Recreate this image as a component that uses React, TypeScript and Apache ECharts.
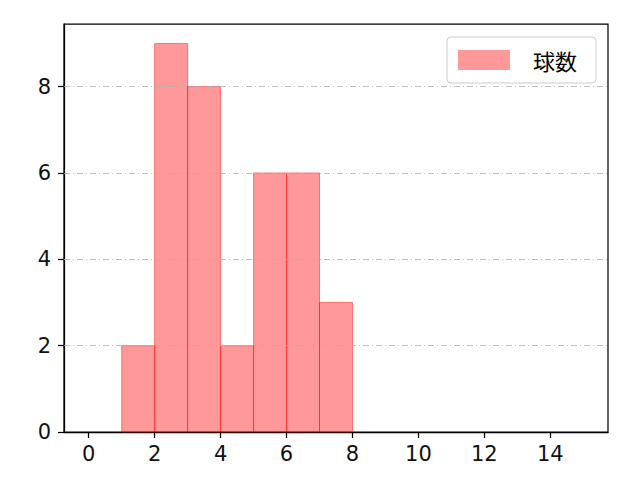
import React, { useEffect, useRef } from 'react';
import * as echarts from 'echarts';

// histogram bins: [start, end]
const binStarts = [1, 2, 3, 4, 5, 6, 7];
const binEnds = [2, 3, 4, 5, 6, 7, 8];
const counts = [2, 9, 8, 2, 6, 6, 3];
const seriesName = '球数';

const xTicks = [0, 2, 4, 6, 8, 10, 12, 14];
const yTicks = [0, 2, 4, 6, 8];
const gridLines = [2, 4, 6, 8];

const FONT = '"Noto Sans CJK JP", sans-serif';
const NUM_FONT = '"DejaVu Sans", sans-serif';

const App: React.FC = () => {
    const chartRef = useRef<HTMLDivElement | null>(null);

    useEffect(() => {
        if (!chartRef.current) return;
        document.body.style.margin = '0';

        const chart = echarts.init(chartRef.current, null, { renderer: 'svg' });

        const data = binStarts.map((s, i) => [s, binEnds[i], counts[i]]);

        const option = {
            animation: false,
            backgroundColor: '#fff',
            textStyle: { fontFamily: FONT },
            grid: {
                left: 64,
                right: 32,
                top: 24,
                bottom: 48,
                show: true,
                borderColor: '#000',
                borderWidth: 1.25,
                containLabel: false
            },
            legend: {
                right: 44,
                top: 37,
                padding: [12, 19, 12, 11],
                itemWidth: 52,
                itemHeight: 20,
                borderColor: '#ccc',
                borderWidth: 1,
                borderRadius: 4,
                textStyle: { fontSize: 22, color: '#000', fontFamily: FONT, padding: [0, 0, 0, 18] },
                data: [{ name: seriesName, icon: 'rect' }]
            },
            xAxis: {
                type: 'value',
                min: -0.75,
                max: 15.75,
                splitLine: { show: false },
                axisLine: { show: true, onZero: false, lineStyle: { color: '#000', width: 1.25 } },
                axisTick: {
                    show: true,
                    length: 6,
                    lineStyle: { color: '#000', width: 1.25 },
                    customValues: xTicks
                },
                axisLabel: {
                    color: '#111',
                    fontSize: 21,
                    margin: 11,
                    fontFamily: NUM_FONT,
                    customValues: xTicks
                }
            },
            yAxis: {
                type: 'value',
                min: 0,
                max: 9.45,
                splitLine: { show: false },
                axisLine: { show: true, onZero: false, lineStyle: { color: '#000', width: 1.25 } },
                axisTick: {
                    show: true,
                    length: 6,
                    lineStyle: { color: '#000', width: 1.25 },
                    customValues: yTicks
                },
                axisLabel: {
                    color: '#111',
                    fontSize: 21,
                    margin: 13,
                    fontFamily: NUM_FONT,
                    customValues: yTicks
                }
            },
            series: [
                {
                    name: seriesName,
                    type: 'custom',
                    itemStyle: { color: 'rgba(255,0,0,0.4)' },
                    renderItem: (params: any, api: any) => {
                        const p0 = api.coord([api.value(0), 0]);
                        const p1 = api.coord([api.value(1), api.value(2)]);
                        return {
                            type: 'rect',
                            shape: { x: p0[0], y: p1[1], width: p1[0] - p0[0], height: p0[1] - p1[1] },
                            style: {
                                fill: 'rgba(255,0,0,0.4)',
                                stroke: 'rgba(255,0,0,0.45)',
                                lineWidth: 1
                            }
                        };
                    },
                    encode: { x: [0, 1], y: 2 },
                    data: data,
                    markLine: {
                        silent: true,
                        symbol: 'none',
                        label: { show: false },
                        lineStyle: { color: '#b0b0b0', width: 0.8, type: [6, 3, 1, 3] },
                        data: gridLines.map((v) => ({ yAxis: v }))
                    },
                    z: 2
                }
            ]
        };

        chart.setOption(option);

        return () => {
            chart.dispose();
        };
    }, []);

    return <div ref={chartRef} style={{ width: '640px', height: '480px' }} />;
};

export default App;
